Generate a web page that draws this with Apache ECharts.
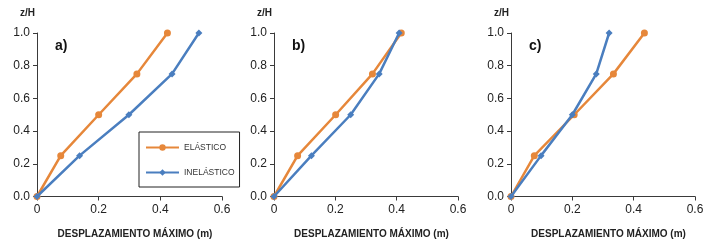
<!DOCTYPE html>
<html><head><meta charset="utf-8">
<script src="https://cdn.jsdelivr.net/npm/echarts@6/dist/echarts.min.js"></script>
<style>html,body{margin:0;padding:0;background:#fff}#c{width:710px;height:248px}</style>
</head><body><div id="c"></div>
<script>
const zLevels = [0, 0.25, 0.5, 0.75, 1.0];
const elasticA = [0, 0.077, 0.200, 0.324, 0.423];
const inelasticA = [0, 0.138, 0.298, 0.438, 0.525];
const elasticB = [0, 0.077, 0.201, 0.321, 0.415];
const inelasticB = [0, 0.122, 0.250, 0.343, 0.408];
const elasticC = [0, 0.076, 0.206, 0.334, 0.435];
const inelasticC = [0, 0.098, 0.200, 0.278, 0.320];
const panelLabels = ['a)', 'b)', 'c)'];
const seriesNames = ['ELÁSTICO', 'INELÁSTICO'];
const xTitle = 'DESPLAZAMIENTO MÁXIMO (m)';
const yTitle = 'z/H';

const ORANGE = '#E6873A', BLUE = '#4A7EBF', AXIS = '#3a3a3a';
const FONT = 'Liberation Sans, Arial, sans-serif';
const grids = [
  {left: 37, top: 33, width: 185, height: 163.5},
  {left: 274, top: 33, width: 184, height: 163.5},
  {left: 511, top: 33, width: 184, height: 163.5}
];
const data = [[elasticA, inelasticA],[elasticB, inelasticB],[elasticC, inelasticC]];
const pair = (xs) => xs.map((x, i) => [x, zLevels[i]]);

const xAxis = [], yAxis = [], series = [], graphic = [];
grids.forEach((g, i) => {
  xAxis.push({
    type: 'value', gridIndex: i, min: 0, max: 0.6, interval: 0.2,
    name: xTitle, nameLocation: 'middle', nameGap: 33,
    nameTextStyle: {fontFamily: FONT, fontSize: 10, fontWeight: 'bold', color: '#222', padding: [0,0,0,11]},
    axisLine: {show: true, lineStyle: {color: AXIS, width: 1}},
    axisTick: {show: true, inside: false, length: 4, lineStyle: {color: AXIS}},
    axisLabel: {fontFamily: FONT, fontSize: 12, color: '#222', margin: 7,
      formatter: v => v === 0 ? '0' : v.toFixed(1)},
    splitLine: {show: false}
  });
  yAxis.push({
    type: 'value', gridIndex: i, min: 0, max: 1, interval: 0.2,
    axisLine: {show: true, lineStyle: {color: AXIS, width: 1}},
    axisTick: {show: true, inside: false, length: 4, lineStyle: {color: AXIS}},
    axisLabel: {fontFamily: FONT, fontSize: 12, color: '#222', margin: 7,
      formatter: v => v.toFixed(1)},
    splitLine: {show: false}
  });
  series.push({
    name: seriesNames[0], type: 'line', xAxisIndex: i, yAxisIndex: i,
    data: pair(data[i][0]), symbol: 'circle', symbolSize: 7,
    lineStyle: {color: ORANGE, width: 2.5}, itemStyle: {color: ORANGE},
    z: 2, animation: false
  });
  series.push({
    name: seriesNames[1], type: 'line', xAxisIndex: i, yAxisIndex: i,
    data: pair(data[i][1]), symbol: 'diamond', symbolSize: 7,
    lineStyle: {color: BLUE, width: 2.5}, itemStyle: {color: BLUE},
    z: 3, animation: false
  });
  graphic.push({type: 'text', left: g.left - 17, top: 8,
    style: {text: yTitle, font: 'bold 10px ' + FONT, fill: '#222'}});
  graphic.push({type: 'text', left: g.left + 18, top: 39,
    style: {text: panelLabels[i], font: 'bold 14px ' + FONT, fill: '#111'}});
});

const chart = echarts.init(document.getElementById('c'), null, {renderer: 'canvas'});
chart.setOption({
  backgroundColor: '#fff',
  animation: false,
  grid: grids,
  xAxis, yAxis, series, graphic,
  legend: {
    data: seriesNames, orient: 'vertical', left: 139, top: 132,
    padding: [11, 5, 10, 6], itemGap: 16, itemWidth: 33, itemHeight: 8,
    borderColor: '#222', borderWidth: 1, backgroundColor: '#fff',
    textStyle: {fontFamily: FONT, fontSize: 8.5, color: '#333'}
  }
});
</script></body></html>
